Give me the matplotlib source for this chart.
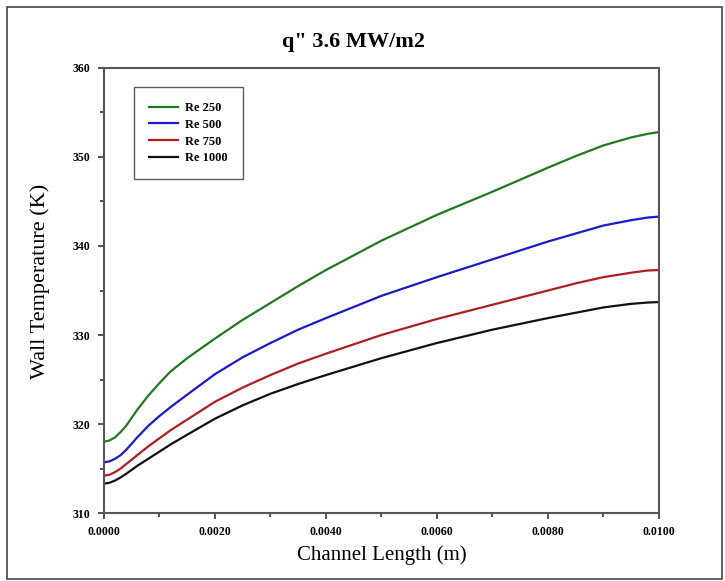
import matplotlib
matplotlib.use("Agg")
import matplotlib.pyplot as plt
from matplotlib.patches import Rectangle
from matplotlib.ticker import MultipleLocator, FormatStrFormatter

# channel position (m) and wall temperature (K)
x = [0.0, 0.0001, 0.0002, 0.0003, 0.0004, 0.0005, 0.0006, 0.0008, 0.001,
     0.0012, 0.0015, 0.002, 0.0025, 0.003, 0.0035, 0.004, 0.005, 0.006,
     0.007, 0.008, 0.0085, 0.009, 0.0095, 0.0098, 0.01]
re250 = [318.0, 318.15, 318.5, 319.1, 319.8, 320.7, 321.6, 323.2, 324.6,
         325.9, 327.4, 329.6, 331.7, 333.6, 335.5, 337.3, 340.6, 343.5,
         346.1, 348.8, 350.1, 351.3, 352.2, 352.6, 352.8]
re500 = [315.7, 315.8, 316.1, 316.5, 317.1, 317.8, 318.5, 319.8, 320.9,
         321.9, 323.3, 325.6, 327.5, 329.1, 330.6, 331.9, 334.4, 336.5,
         338.5, 340.5, 341.4, 342.3, 342.9, 343.2, 343.3]
re750 = [314.2, 314.3, 314.6, 315.0, 315.5, 316.0, 316.5, 317.5, 318.4,
         319.3, 320.5, 322.5, 324.1, 325.5, 326.8, 327.9, 330.0, 331.8,
         333.4, 335.0, 335.8, 336.5, 337.0, 337.25, 337.3]
re1000 = [313.3, 313.4, 313.65, 314.0, 314.4, 314.85, 315.3, 316.1, 316.9,
          317.7, 318.8, 320.6, 322.1, 323.4, 324.5, 325.5, 327.4, 329.1,
          330.6, 331.9, 332.5, 333.1, 333.5, 333.65, 333.7]

labels = ["Re 250", "Re 500", "Re 750", "Re 1000"]
colors = ["#1f7a1f", "#1a1acc", "#b01e1e", "#111111"]

plt.rcParams["font.family"] = ["Liberation Serif", "DejaVu Serif"]

fig = plt.figure(figsize=(7.25, 5.81), dpi=100)
ax = fig.add_axes([0.1434, 0.117, 0.7655, 0.766])

for y, lab, c in zip([re250, re500, re750, re1000], labels, colors):
    ax.plot(x, y, color=c, lw=1.6, label=lab)

ax.set_xlim(0, 0.01)
ax.set_ylim(310, 360)
ax.xaxis.set_major_locator(MultipleLocator(0.002))
ax.xaxis.set_minor_locator(MultipleLocator(0.001))
ax.yaxis.set_major_locator(MultipleLocator(10))
ax.yaxis.set_minor_locator(MultipleLocator(5))
ax.xaxis.set_major_formatter(FormatStrFormatter("%.4f"))
ax.yaxis.set_major_formatter(FormatStrFormatter("%d"))
ax.tick_params(which="both", direction="out", color="#444444", width=1.3,
               top=False, right=False)
ax.tick_params(which="major", length=4.5, labelsize=8.5, pad=5)
ax.tick_params(which="minor", length=3)
for lbl in ax.get_xticklabels() + ax.get_yticklabels():
    lbl.set_fontweight("bold")
for sp in ax.spines.values():
    sp.set_color("#555555")
    sp.set_linewidth(1.5)

ax.set_xlabel("Channel Length (m)", fontsize=15, labelpad=5)
ax.set_ylabel("Wall Temperature (K)", fontsize=16)
ax.yaxis.set_label_coords(-0.098, 0.52)
fig.text(354 / 725, 1 - 42 / 581, "q\" 3.6 MW/m2", fontsize=16,
         fontweight="bold", ha="center", va="center")

leg = ax.legend(loc="upper left", bbox_to_anchor=(0.054, 0.957),
                prop={"weight": "bold", "size": 9}, frameon=True,
                fancybox=False, handlelength=2.3, handletextpad=0.6,
                borderpad=1.2, labelspacing=0.38, borderaxespad=0)
leg.get_frame().set_edgecolor("#333333")
leg.get_frame().set_linewidth(1.0)

# outer frame around the figure
fig.patches.append(Rectangle((7 / 725, 2 / 581), 715 / 725, 572 / 581,
                             transform=fig.transFigure, fill=False,
                             edgecolor="#444444", lw=1.2))

fig.savefig("out.png", dpi=100)
